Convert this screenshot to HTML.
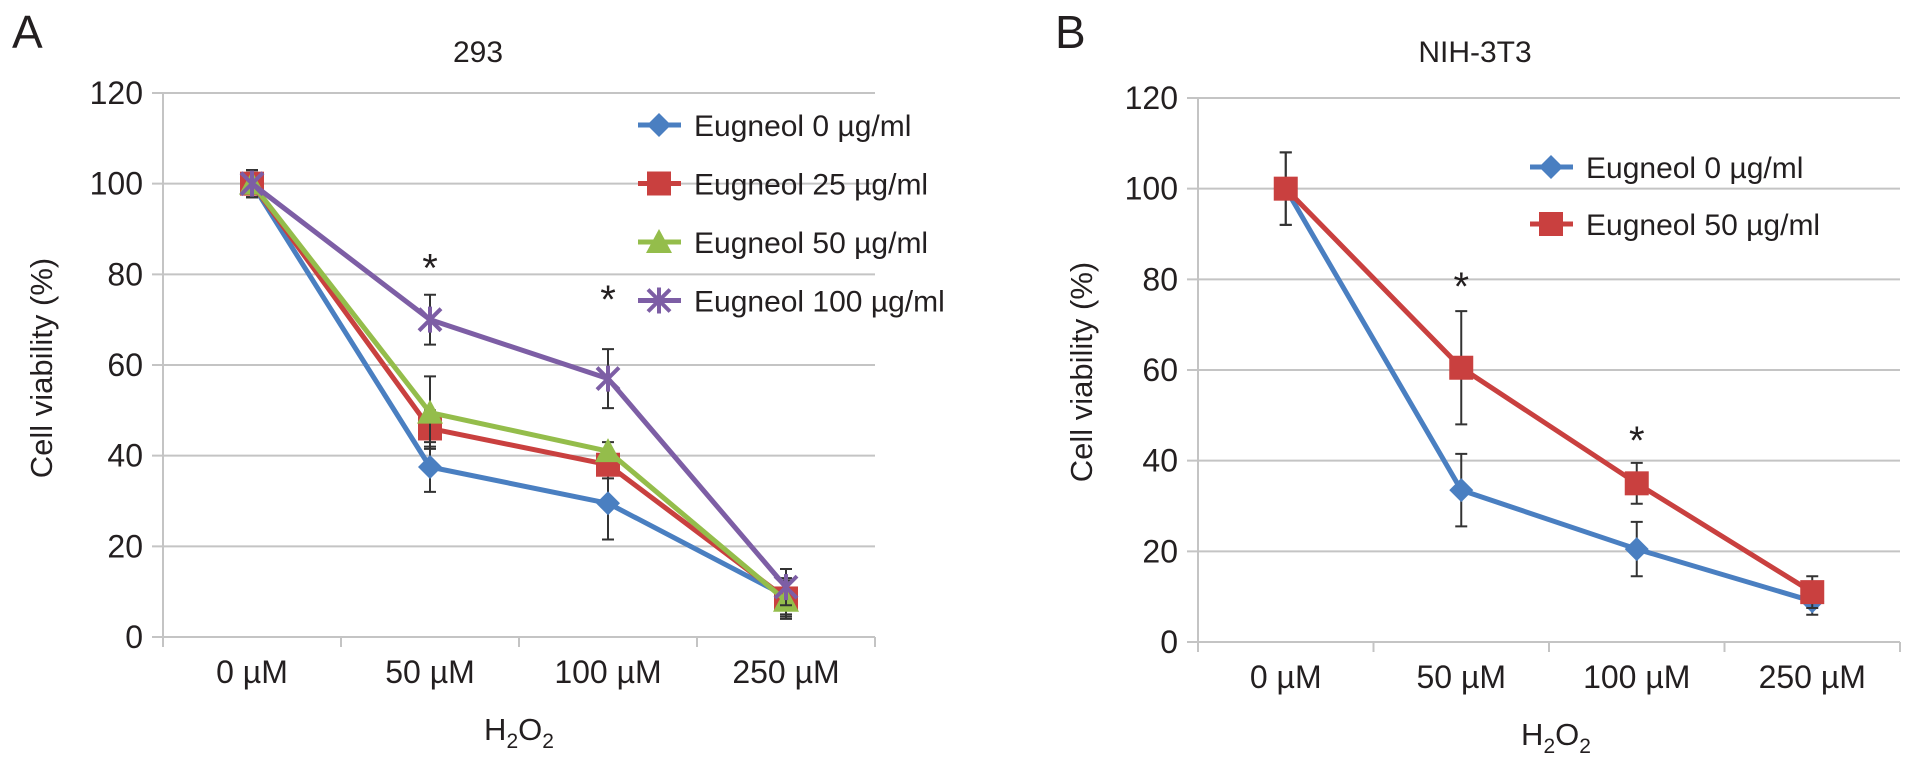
<!DOCTYPE html>
<html><head><meta charset="utf-8"><style>
html,body{margin:0;padding:0;background:#fff;}
svg text{font-family:"Liberation Sans",Arial,sans-serif;fill:#231f20;}
</style></head><body>
<svg id="fig" width="1913" height="769" viewBox="0 0 1913 769" xmlns="http://www.w3.org/2000/svg"></svg>
<script>
// Shared categories
const categories = ["0 \u00b5M","50 \u00b5M","100 \u00b5M","250 \u00b5M"];
const yTicks = [0,20,40,60,80,100,120];
// Panel A (293)
const aSeriesNames = ["Eugneol 0 \u00b5g/ml","Eugneol 25 \u00b5g/ml","Eugneol 50 \u00b5g/ml","Eugneol 100 \u00b5g/ml"];
const aBlue = [100,37.5,29.5,9];
const aRed = [100,46,38,8.5];
const aGreen = [100,49.5,41,8];
const aPurple = [100,70,57,11];
const aBlueErr = [3,5.5,8,4];
const aRedErr = [3,4,3,4];
const aGreenErr = [3,8,2,4];
const aPurpleErr = [3,5.5,6.5,4];
const aStars = [null,82,75,null];
// Panel B (NIH-3T3)
const bSeriesNames = ["Eugneol 0 \u00b5g/ml","Eugneol 50 \u00b5g/ml"];
const bBlue = [100,33.5,20.5,9];
const bRed = [100,60.5,35,11];
const bBlueErr = [8,8,6,3];
const bRedErr = [8,12.5,4.5,3.5];
const bStars = [null,79,45,null];

const NS="http://www.w3.org/2000/svg";
const svg=document.getElementById('fig');
function mk(tag,attrs,parent,name,txt){
  const e=document.createElementNS(NS,tag);
  for(const k in attrs) e.setAttribute(k,attrs[k]);
  
  
  if(txt!==undefined) e.textContent=txt;
  (parent||svg).appendChild(e);
  return e;
}
function marker(g,type,x,y,color,name){
  if(type==='diamond'){
    mk('polygon',{points:`${x},${y-12} ${x+12},${y} ${x},${y+12} ${x-12},${y}`,fill:color},g,name);
  }else if(type==='square'){
    mk('rect',{x:x-12,y:y-12,width:24,height:24,fill:color},g,name);
  }else if(type==='triangle'){
    mk('polygon',{points:`${x},${y-13} ${x+13},${y+11} ${x-13},${y+11}`,fill:color},g,name);
  }else{
    const p=`M${x-11},${y-11}L${x+11},${y+11}M${x-11},${y+11}L${x+11},${y-11}M${x},${y-13}L${x},${y+13}`;
    mk('path',{d:p,stroke:color,'stroke-width':4,fill:'none'},g,name);
  }
}
function panel(cfg){
  const g=mk('g',{},svg,cfg.id);
  const x0=cfg.left, w=cfg.width, yTop=cfg.top, yBot=cfg.bottom;
  const cw=w/categories.length;
  const xS=i=>x0+cw*(i+0.5);
  const yS=v=>yBot-(v/120)*(yBot-yTop);
  mk('text',{x:cfg.letterX,y:48,'font-size':46},g,'panel-letter',cfg.letter);
  mk('text',{x:cfg.titleX,y:62,'font-size':30,'text-anchor':'middle'},g,'chart-title',cfg.title);
  yTicks.forEach(t=>{
    mk('line',{x1:x0-11,x2:x0+w,y1:yS(t),y2:yS(t),stroke:'#c4c4c4','stroke-width':2},g,'gridline-'+t);
    mk('text',{x:x0-20,y:yS(t)+11,'font-size':32,'text-anchor':'end'},g,'y-tick-label',String(t));
  });
  mk('line',{x1:x0,x2:x0,y1:yTop,y2:yBot+10,stroke:'#c4c4c4','stroke-width':2},g,'y-axis');
  for(let i=0;i<=categories.length;i++){
    mk('line',{x1:x0+cw*i,x2:x0+cw*i,y1:yBot,y2:yBot+10,stroke:'#c4c4c4','stroke-width':2},g,'x-tick');
  }
  categories.forEach((c,i)=>mk('text',{x:xS(i),y:yBot+46,'font-size':32,'text-anchor':'middle'},g,'x-tick-label',c));
  const xt=mk('text',{x:cfg.xTitleX,y:cfg.xTitleY,'font-size':31,'text-anchor':'middle'},g,'x-axis-title');
  xt.innerHTML='H<tspan font-size="21" dy="8">2</tspan><tspan dy="-8">O</tspan><tspan font-size="21" dy="8">2</tspan>';
  mk('text',{x:0,y:0,'font-size':31,'text-anchor':'middle',transform:`translate(${cfg.yTitleX},${cfg.yTitleY}) rotate(-90)`},g,'y-axis-title','Cell viability (%)');
  cfg.series.forEach(s=>{
    const sg=mk('g',{},g,s.name);
    mk('polyline',{points:s.vals.map((v,i)=>xS(i)+','+yS(v)).join(' '),fill:'none',stroke:s.color,'stroke-width':5,'stroke-linejoin':'round'},sg,'series-line');
    s.vals.forEach((v,i)=>{
      const e=s.err[i];
      mk('path',{d:`M${xS(i)},${yS(v+e)}V${yS(v-e)}M${xS(i)-6},${yS(v+e)}H${xS(i)+6}M${xS(i)-6},${yS(v-e)}H${xS(i)+6}`,stroke:'#333','stroke-width':2,fill:'none'},sg,'error-bar');
    });
    s.vals.forEach((v,i)=>marker(sg,s.m,xS(i),yS(v),s.color,'data-point'));
  });
  cfg.stars.forEach((v,i)=>{ if(v!==null) mk('text',{x:xS(i),y:yS(v)+16,'font-size':40,'text-anchor':'middle'},g,'significance-star','*'); });
  cfg.series.forEach((s,k)=>{
    const ly=cfg.legY+k*cfg.legStep;
    const lg=mk('g',{},g,'legend-entry');
    mk('line',{x1:cfg.legX,x2:cfg.legX+43,y1:ly,y2:ly,stroke:s.color,'stroke-width':5},lg,'legend-line');
    marker(lg,s.m,cfg.legX+21,ly,s.color,'legend-marker');
    mk('text',{x:cfg.legX+56,y:ly+11,'font-size':30},lg,'legend-label',s.label);
  });
}
panel({id:'panel-a-293',letter:'A',letterX:12,title:'293',titleX:478,left:163,width:712,top:93,bottom:637,
  xTitleX:519,xTitleY:740,yTitleX:52,yTitleY:368,legX:638,legY:125,legStep:58.5,stars:aStars,
  series:[
    {name:'series-eugneol-0',label:aSeriesNames[0],vals:aBlue,err:aBlueErr,color:'#4a7fc1',m:'diamond'},
    {name:'series-eugneol-25',label:aSeriesNames[1],vals:aRed,err:aRedErr,color:'#c9403f',m:'square'},
    {name:'series-eugneol-50',label:aSeriesNames[2],vals:aGreen,err:aGreenErr,color:'#94bd4b',m:'triangle'},
    {name:'series-eugneol-100',label:aSeriesNames[3],vals:aPurple,err:aPurpleErr,color:'#7d5ea5',m:'x'}
  ]});
panel({id:'panel-b-nih3t3',letter:'B',letterX:1055,title:'NIH-3T3',titleX:1475,left:1198,width:702,top:98,bottom:642,
  xTitleX:1556,xTitleY:745,yTitleX:1092,yTitleY:372,legX:1530,legY:167,legStep:57,stars:bStars,
  series:[
    {name:'series-eugneol-0',label:bSeriesNames[0],vals:bBlue,err:bBlueErr,color:'#4a7fc1',m:'diamond'},
    {name:'series-eugneol-50',label:bSeriesNames[1],vals:bRed,err:bRedErr,color:'#c9403f',m:'square'}
  ]});
</script>
</body></html>
